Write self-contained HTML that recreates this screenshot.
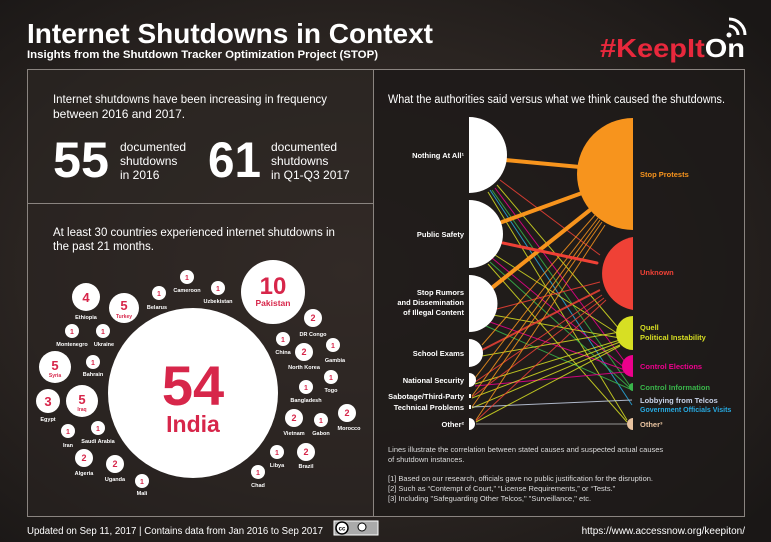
<!DOCTYPE html>
<html><head><meta charset="utf-8"><style>
html,body{margin:0;padding:0;width:771px;height:542px;overflow:hidden;background:#262120;}
svg{display:block}
text{font-family:"Liberation Sans",Arial,sans-serif}
</style></head><body>
<svg width="771" height="542" viewBox="0 0 771 542" xmlns="http://www.w3.org/2000/svg">
<defs>
<radialGradient id="bg" cx="0.45" cy="0.5" r="0.7">
<stop offset="0" stop-color="#3a302b"/><stop offset="0.6" stop-color="#2a2421"/><stop offset="1" stop-color="#1a1716"/>
</radialGradient>
</defs>
<rect width="771" height="542" fill="url(#bg)"/>
<rect x="27.5" y="69.5" width="346" height="134" fill="#2c2623" fill-opacity="0.6" stroke="#8a8480" stroke-width="1"/>
<rect x="27.5" y="203.5" width="346" height="313" fill="#2a2422" fill-opacity="0.5" stroke="#8a8480" stroke-width="1"/>
<rect x="373.5" y="69.5" width="371" height="447" fill="#1d1a19" fill-opacity="0.85" stroke="#8a8480" stroke-width="1"/>

<text x="27" y="43" font-size="28" font-weight="bold" fill="#fff" textLength="406" lengthAdjust="spacingAndGlyphs">Internet Shutdowns in Context</text>
<text x="27" y="58" font-size="11" font-weight="bold" fill="#fff" textLength="351" lengthAdjust="spacingAndGlyphs">Insights from the Shutdown Tracker Optimization Project (STOP)</text>
<text x="600" y="57" font-size="26" font-weight="bold" fill="#e8283c" textLength="145" lengthAdjust="spacingAndGlyphs">#KeepIt<tspan fill="#fff">On</tspan></text>
<g fill="none" stroke="#fff" stroke-width="3">
<path d="M729 26 a9 9 0 0 1 9 9"/><path d="M729 19 a16 16 0 0 1 16 16"/>
</g>
<circle cx="729" cy="35" r="2.5" fill="#fff"/>

<text x="53" y="103" font-size="12" fill="#fff" textLength="274" lengthAdjust="spacingAndGlyphs">Internet shutdowns have been increasing in frequency</text>
<text x="53" y="118" font-size="12" fill="#fff">between 2016 and 2017.</text>
<text x="53" y="177" font-size="50" font-weight="bold" fill="#fff" textLength="56" lengthAdjust="spacingAndGlyphs">55</text>
<text x="120" y="151" font-size="12" fill="#fff">documented</text>
<text x="120" y="165" font-size="12" fill="#fff">shutdowns</text>
<text x="120" y="179" font-size="12" fill="#fff">in 2016</text>
<text x="208" y="177" font-size="50" font-weight="bold" fill="#fff" textLength="53" lengthAdjust="spacingAndGlyphs">61</text>
<text x="271" y="151" font-size="12" fill="#fff">documented</text>
<text x="271" y="165" font-size="12" fill="#fff">shutdowns</text>
<text x="271" y="179" font-size="12" fill="#fff">in Q1-Q3 2017</text>

<text x="53" y="236" font-size="11.5" fill="#fff">At least 30 countries experienced internet shutdowns in</text>
<text x="53" y="250" font-size="11.5" fill="#fff">the past 21 months.</text>

<g fill="#fff">
<circle cx="193" cy="393" r="85"/>
<circle cx="273" cy="292" r="32"/>
<circle cx="187" cy="277" r="7"/><circle cx="159" cy="293" r="7"/><circle cx="218" cy="288" r="7"/>
<circle cx="86" cy="297" r="14"/><circle cx="124" cy="308" r="15"/>
<circle cx="72" cy="331" r="7"/><circle cx="103" cy="331" r="7"/>
<circle cx="55" cy="367" r="16"/><circle cx="93" cy="362" r="7"/>
<circle cx="48" cy="401" r="12"/><circle cx="82" cy="401" r="16"/>
<circle cx="68" cy="431" r="7"/><circle cx="98" cy="428" r="7"/>
<circle cx="84" cy="458" r="9"/><circle cx="115" cy="464" r="9"/><circle cx="142" cy="481" r="7"/>
<circle cx="313" cy="318" r="9"/><circle cx="283" cy="339" r="7"/><circle cx="304" cy="352" r="9"/>
<circle cx="333" cy="345" r="7"/><circle cx="331" cy="377" r="7"/><circle cx="306" cy="387" r="7"/>
<circle cx="347" cy="413" r="9"/><circle cx="321" cy="420" r="7"/><circle cx="294" cy="418" r="9"/>
<circle cx="306" cy="452" r="9"/><circle cx="277" cy="452" r="7"/><circle cx="258" cy="472" r="7"/>
</g>
<g fill="#d7264a" font-weight="bold" text-anchor="middle">
<text x="193" y="405" font-size="56">54</text>
<text x="193" y="432" font-size="23">India</text>
<text x="273" y="294" font-size="24">10</text>
<text x="273" y="306" font-size="8.5">Pakistan</text>
<text x="124" y="310" font-size="13">5</text><text x="124" y="318" font-size="5">Turkey</text>
<text x="55" y="370" font-size="13">5</text><text x="55" y="377" font-size="5">Syria</text>
<text x="82" y="404" font-size="13">5</text><text x="82" y="411" font-size="5">Iraq</text>
<text x="86" y="302" font-size="13">4</text>
<text x="48" y="406" font-size="13">3</text>
<g font-size="7">
<text x="187" y="280">1</text><text x="159" y="296">1</text><text x="218" y="291">1</text>
<text x="72" y="334">1</text><text x="103" y="334">1</text><text x="93" y="365">1</text>
<text x="68" y="434">1</text><text x="98" y="431">1</text><text x="142" y="484">1</text>
<text x="283" y="342">1</text><text x="333" y="348">1</text><text x="331" y="380">1</text><text x="306" y="390">1</text>
<text x="321" y="423">1</text><text x="277" y="455">1</text><text x="258" y="475">1</text>
</g>
<g font-size="9">
<text x="84" y="461">2</text><text x="115" y="467">2</text><text x="313" y="321">2</text><text x="304" y="355">2</text>
<text x="347" y="416">2</text><text x="294" y="421">2</text><text x="306" y="455">2</text>
</g>
</g>
<g fill="#fff" font-weight="bold" font-size="5.5" text-anchor="middle">
<text x="187" y="292">Cameroon</text><text x="157" y="309">Belarus</text><text x="218" y="303">Uzbekistan</text>
<text x="86" y="319">Ethiopia</text><text x="72" y="346">Montenegro</text><text x="104" y="346">Ukraine</text>
<text x="93" y="376">Bahrain</text><text x="48" y="421">Egypt</text><text x="68" y="447">Iran</text>
<text x="98" y="443">Saudi Arabia</text><text x="84" y="475">Algeria</text><text x="115" y="481">Uganda</text>
<text x="142" y="495">Mali</text><text x="313" y="336">DR Congo</text><text x="283" y="354">China</text>
<text x="304" y="369">North Korea</text><text x="335" y="362">Gambia</text><text x="331" y="392">Togo</text>
<text x="306" y="402">Bangladesh</text><text x="349" y="430">Morocco</text><text x="321" y="435">Gabon</text>
<text x="294" y="435">Vietnam</text><text x="306" y="468">Brazil</text><text x="277" y="467">Libya</text>
<text x="258" y="487">Chad</text>
</g>

<text x="388" y="103" font-size="11.5" fill="#fff" textLength="337" lengthAdjust="spacingAndGlyphs">What the authorities said versus what we think caused the shutdowns.</text>

<g fill="none" stroke-width="1" stroke-opacity="0.85">
<line x1="500" y1="180" x2="600" y2="255" stroke="#ef4136"/>
<line x1="497" y1="185" x2="620" y2="330" stroke="#d7df23"/>
<line x1="495" y1="188" x2="625" y2="362" stroke="#ec008c"/>
<line x1="492" y1="190" x2="630" y2="386" stroke="#39b54a"/>
<line x1="490" y1="190" x2="632" y2="405" stroke="#27aae1"/>
<line x1="488" y1="192" x2="627" y2="420" stroke="#d7df23"/>
<line x1="495" y1="255" x2="620" y2="335" stroke="#d7df23"/>
<line x1="492" y1="258" x2="625" y2="368" stroke="#ec008c"/>
<line x1="490" y1="262" x2="630" y2="388" stroke="#39b54a"/>
<line x1="488" y1="264" x2="627" y2="422" stroke="#d7df23"/>
<line x1="493" y1="310" x2="600" y2="282" stroke="#ef4136"/>
<line x1="493" y1="315" x2="620" y2="338" stroke="#d7df23"/>
<line x1="490" y1="322" x2="625" y2="370" stroke="#ec008c"/>
<line x1="486" y1="326" x2="630" y2="389" stroke="#39b54a"/>
<line x1="482" y1="345" x2="595" y2="215" stroke="#f7941d"/>
<line x1="482" y1="350" x2="600" y2="290" stroke="#ef4136" stroke-width="2"/>
<line x1="482" y1="356" x2="620" y2="332" stroke="#d7df23"/>
<line x1="475" y1="378" x2="598" y2="218" stroke="#f7941d"/>
<line x1="475" y1="382" x2="602" y2="295" stroke="#ef4136"/>
<line x1="475" y1="384" x2="620" y2="340" stroke="#d7df23"/>
<line x1="475" y1="386" x2="625" y2="372" stroke="#ec008c"/>
<line x1="472" y1="396" x2="600" y2="220" stroke="#f7941d"/>
<line x1="472" y1="397" x2="604" y2="298" stroke="#ef4136"/>
<line x1="472" y1="398" x2="620" y2="342" stroke="#d7df23"/>
<line x1="472" y1="407" x2="602" y2="222" stroke="#f7941d"/>
<line x1="472" y1="408" x2="620" y2="345" stroke="#d7df23"/>
<line x1="472" y1="407" x2="632" y2="400" stroke="#c8d2e8"/>
<line x1="476" y1="420" x2="605" y2="225" stroke="#f7941d"/>
<line x1="476" y1="421" x2="606" y2="300" stroke="#ef4136"/>
<line x1="476" y1="422" x2="620" y2="346" stroke="#d7df23"/>
<line x1="476" y1="424" x2="627" y2="424" stroke="#aaa"/>
</g>
<g fill="none" stroke-linecap="round">
<line x1="505" y1="160" x2="580" y2="167" stroke="#f7941d" stroke-width="4"/>
<line x1="502" y1="222" x2="582" y2="193" stroke="#f7941d" stroke-width="4"/>
<line x1="493" y1="287" x2="590" y2="210" stroke="#f7941d" stroke-width="4"/>
<line x1="503" y1="243" x2="597" y2="263" stroke="#ef4136" stroke-width="3"/>
</g>
<g fill="#fff">
<path d="M469 117 a38 38 0 0 1 0 76 z"/>
<path d="M469 200 a34 34 0 0 1 0 68 z"/>
<path d="M469 275 a28 28 0 0 1 0 57 z"/>
<path d="M469 339 a14 14 0 0 1 0 28 z"/>
<path d="M469 373 a7 7 0 0 1 0 14 z"/>
<rect x="469" y="394" width="2" height="4"/>
<rect x="469" y="405" width="2" height="4"/>
<path d="M469 418 a6 6 0 0 1 0 12 z"/>
</g>
<path d="M633 118 a56 56 0 0 0 0 112 z" fill="#f7941d"/>
<path d="M633 237 a37 37 0 0 0 0 73 z" fill="#ef4136"/>
<path d="M633 316 a17 17 0 0 0 0 34 z" fill="#d7df23"/>
<path d="M633 355 a11 11 0 0 0 0 22 z" fill="#ec008c"/>
<path d="M633 383 a4 4 0 0 0 0 8 z" fill="#39b54a"/>
<path d="M633 418 a6 6 0 0 0 0 12 z" fill="#e9c4a0"/>

<g fill="#fff" font-weight="bold" font-size="7.5" text-anchor="end">
<text x="464" y="158">Nothing At All¹</text>
<text x="464" y="237">Public Safety</text>
<text x="464" y="295">Stop Rumors</text>
<text x="464" y="305">and Dissemination</text>
<text x="464" y="315">of Illegal Content</text>
<text x="464" y="356">School Exams</text>
<text x="464" y="383">National Security</text>
<text x="464" y="399">Sabotage/Third-Party</text>
<text x="464" y="410">Technical Problems</text>
<text x="464" y="427">Other²</text>
</g>
<g font-weight="bold" font-size="7.5">
<text x="640" y="177" fill="#f7941d">Stop Protests</text>
<text x="640" y="275" fill="#ef4136">Unknown</text>
<text x="640" y="330" fill="#d7df23">Quell</text>
<text x="640" y="340" fill="#d7df23">Political Instability</text>
<text x="640" y="369" fill="#ec008c">Control Elections</text>
<text x="640" y="390" fill="#39b54a">Control Information</text>
<text x="640" y="403" fill="#c8d2e8">Lobbying from Telcos</text>
<text x="640" y="412" fill="#27aae1" font-size="7">Government Officials Visits</text>
<text x="640" y="427" fill="#e9c4a0">Other³</text>
</g>
<g fill="#ddd" font-size="7.5">
<text x="388" y="452">Lines illustrate the correlation between stated causes and suspected actual causes</text>
<text x="388" y="462">of shutdown instances.</text>
<text x="388" y="481">[1] Based on our research, officials gave no public justification for the disruption.</text>
<text x="388" y="491">[2] Such as “Contempt of Court,” “License Requirements,” or “Tests.”</text>
<text x="388" y="501">[3] Including "Safeguarding Other Telcos," "Surveillance," etc.</text>
</g>

<text x="27" y="534" font-size="10" fill="#fff" textLength="296" lengthAdjust="spacingAndGlyphs">Updated on Sep 11, 2017  |  Contains data from Jan 2016 to Sep 2017</text>
<rect x="334" y="521" width="44" height="14" fill="#aaa" stroke="#fff" stroke-width="1"/>
<circle cx="342" cy="528" r="6" fill="#fff" stroke="#000" stroke-width="1.5"/>
<text x="342" y="530.5" font-size="6" font-weight="bold" text-anchor="middle" fill="#000">cc</text>
<circle cx="362" cy="527" r="4" fill="#fff" stroke="#000" stroke-width="1"/>
<text x="745" y="534" font-size="10" fill="#fff" text-anchor="end">https://www.accessnow.org/keepiton/</text>
</svg>
</body></html>
